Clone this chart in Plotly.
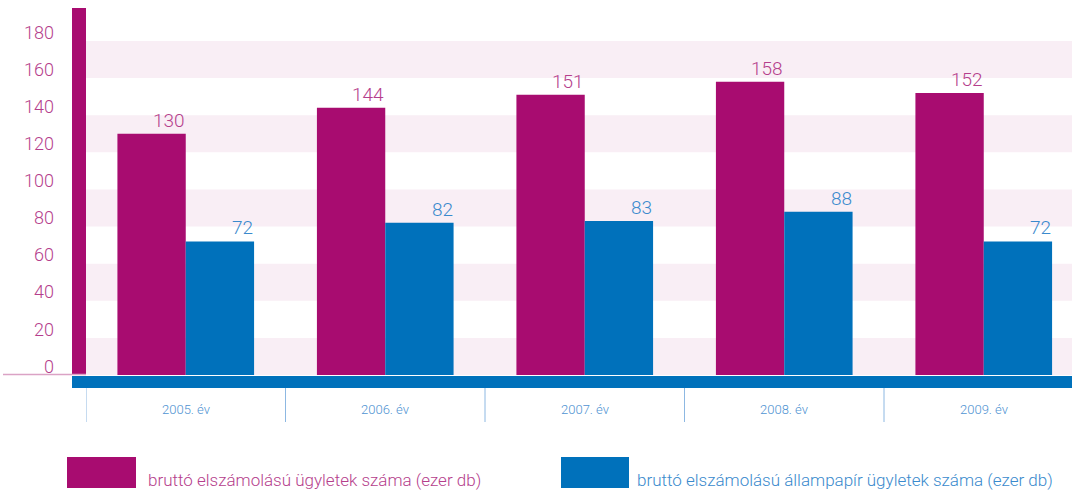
import plotly.graph_objects as go

categories = ["2005. év", "2006. év", "2007. év", "2008. év", "2009. év"]
gross = [130, 144, 151, 158, 152]
gov_sec = [72, 82, 83, 88, 72]
series_names = ["bruttó elszámolású ügyletek száma (ezer db)",
                "bruttó elszámolású állampapír ügyletek száma (ezer db)"]
y_ticks = [0, 20, 40, 60, 80, 100, 120, 140, 160, 180]

MAG = "#A80C70"
BLUE = "#0071BB"
MAG_TXT = "#B53E8C"
BLUE_TXT = "#3A8ACD"
STRIPE = "#F9EEF5"
FONT = "Roboto, sans-serif"

W, H = 1072, 493
L, R, T, B = 86, 0, 41, 118
plot_w = W - L - R
plot_h = H - T - B
cat_px = 199.5
bargap = 0.315
x_range = [-0.5, -0.5 + plot_w / cat_px]
y_range = [0, 180]

def px_x(px):
    return (px - L) / plot_w

def px_y(py):
    return (H - B - py) / plot_h

fig = go.Figure()
fig.add_trace(go.Bar(x=categories, y=gross, name=series_names[0],
                     marker=dict(color=MAG, line=dict(width=0))))
fig.add_trace(go.Bar(x=categories, y=gov_sec, name=series_names[1],
                     marker=dict(color=BLUE, line=dict(width=0))))

shapes = []
for i in range(0, len(y_ticks) - 1, 2):
    shapes.append(dict(type="rect", xref="paper", yref="y", x0=0, x1=1,
                       y0=y_ticks[i], y1=y_ticks[i + 1], fillcolor=STRIPE,
                       line=dict(width=0), layer="below"))
shapes.append(dict(type="rect", xref="paper", yref="paper", x0=px_x(72), x1=px_x(86),
                   y0=px_y(375), y1=px_y(8), fillcolor=MAG, line=dict(width=0), layer="above"))
shapes.append(dict(type="line", xref="paper", yref="paper", x0=px_x(3), x1=px_x(86),
                   y0=px_y(374.5), y1=px_y(374.5), line=dict(color="#DBA3C5", width=1.5)))
shapes.append(dict(type="rect", xref="paper", yref="paper", x0=px_x(72), x1=1,
                   y0=px_y(388), y1=px_y(376), fillcolor=BLUE, line=dict(width=0), layer="above"))
for i in range(len(categories)):
    shapes.append(dict(type="line", xref="x", yref="paper", x0=i - 0.5, x1=i - 0.5,
                       y0=px_y(388), y1=px_y(422), line=dict(color="#8DB8E2", width=1)))
shapes.append(dict(type="rect", xref="paper", yref="paper", x0=px_x(67), x1=px_x(136),
                   y0=px_y(488), y1=px_y(457), fillcolor=MAG, line=dict(width=0)))
shapes.append(dict(type="rect", xref="paper", yref="paper", x0=px_x(561), x1=px_x(629),
                   y0=px_y(488), y1=px_y(457), fillcolor=BLUE, line=dict(width=0)))

annotations = []
half_w = (1 - bargap) / 2 * cat_px
for c, v in zip(categories, gross):
    annotations.append(dict(x=c, y=v, xref="x", yref="y", text=str(v), showarrow=False,
                            xanchor="right", yanchor="bottom", xshift=1, yshift=0,
                            font=dict(family=FONT, size=19, color=MAG_TXT, weight=300)))
for c, v in zip(categories, gov_sec):
    annotations.append(dict(x=c, y=v, xref="x", yref="y", text=str(v), showarrow=False,
                            xanchor="right", yanchor="bottom", xshift=half_w + 1, yshift=0,
                            font=dict(family=FONT, size=19, color=BLUE_TXT, weight=300)))
for c in categories:
    annotations.append(dict(x=c, y=px_y(409), xref="x", yref="paper", text=c, showarrow=False,
                            xanchor="center", yanchor="middle",
                            font=dict(family=FONT, size=13, color="#4F93D2", weight=300)))
annotations.append(dict(x=px_x(146), y=px_y(480), xref="paper", yref="paper", text=series_names[0],
                        showarrow=False, xanchor="left", yanchor="middle",
                        font=dict(family=FONT, size=17, color=MAG_TXT, weight=300)))
annotations.append(dict(x=px_x(635), y=px_y(480), xref="paper", yref="paper", text=series_names[1],
                        showarrow=False, xanchor="left", yanchor="middle",
                        font=dict(family=FONT, size=17, color=BLUE_TXT, weight=300)))

fig.update_layout(
    width=W, height=H,
    margin=dict(l=L, r=R, t=T, b=B, pad=0),
    paper_bgcolor="white", plot_bgcolor="white",
    barmode="group", bargap=bargap, bargroupgap=0,
    showlegend=False,
    shapes=shapes, annotations=annotations,
    xaxis=dict(range=x_range, showticklabels=False, showgrid=False, zeroline=False,
               showline=False, ticks=""),
    yaxis=dict(range=y_range, tickvals=y_ticks, ticktext=[str(t) for t in y_ticks],
               showgrid=False, zeroline=False, showline=False, ticks="",
               ticklabelposition="outside top", ticklabelstandoff=31, ticklabelshift=4,
               tickfont=dict(family=FONT, size=18, color=MAG_TXT, weight=300)),
)

fig.write_html("out.html", config={"displayModeBar": False},
               post_script="document.body.style.margin='0';document.body.style.overflow='hidden';")
